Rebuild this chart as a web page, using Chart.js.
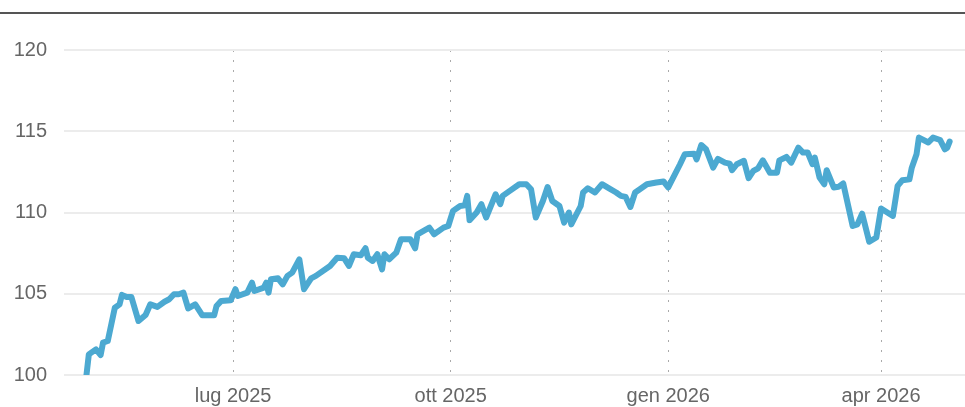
<!DOCTYPE html>
<html lang="it">
<head>
<meta charset="utf-8">
<script src="https://cdn.jsdelivr.net/npm/chart.js@4.4.0/dist/chart.umd.min.js"></script>
<style>
  body { margin: 0; background: #fff; }
  #wrap { position: relative; width: 965px; height: 407px; overflow: hidden; }
  #grafico { position: absolute; left: 0; top: 0; }
  #riga { position: absolute; left: 0; top: 12px; width: 965px; height: 2px; background: #555; }
</style>
</head>
<body>
<div id="wrap">
  <canvas id="grafico" width="965" height="407"></canvas>
  <div id="riga"></div>
</div>
<script>
// Serie: giorni trascorsi dal 30 aprile 2025 e valore dell'indice
const inizio = "2025-04-30";
const giorni = [
  0, 1, 4, 6, 7, 9, 12, 14, 15, 17, 19, 22, 25, 27, 30, 33, 35, 37, 39, 41,
  43, 46, 49, 54, 55, 57, 61, 63, 64, 68, 70, 71, 75, 76, 77, 78, 81, 83, 85, 87,
  90, 92, 95, 97, 103, 106, 109, 111, 113, 116, 118, 119, 121, 123, 125, 126, 128, 131, 133, 137,
  139, 140, 142, 145, 147, 151, 153, 155, 158, 160, 161, 162, 165, 167, 169, 173, 175, 176, 179, 183,
  186, 188, 190, 193, 195, 197, 200, 202, 204, 205, 209, 210, 212, 215, 218, 221, 224, 226, 228, 230,
  232, 234, 237, 241, 244, 246, 251, 253, 257, 258, 260, 262, 265, 267, 270, 272, 273, 275, 278, 280,
  282, 284, 286, 289, 292, 293, 296, 298, 301, 303, 305, 307, 308, 310, 312, 313, 316, 318, 320, 324,
  326, 328, 331, 334, 336, 341, 343, 345, 348, 349, 351, 352, 356, 358, 361, 363, 364, 365
];
const valori = [
  100.0, 101.27, 101.58, 101.23, 101.99, 102.09, 104.14, 104.35, 104.93, 104.8,
  104.8, 103.32, 103.69, 104.35, 104.19, 104.51, 104.66, 104.97, 104.97, 105.07,
  104.1, 104.35, 103.67, 103.67, 104.25, 104.56, 104.6, 105.28, 104.86, 105.07,
  105.68, 105.17, 105.38, 105.68, 105.07, 105.89, 105.95, 105.58, 106.1, 106.3,
  107.12, 105.28, 105.95, 106.1, 106.71, 107.22, 107.18, 106.71, 107.43, 107.37,
  107.8, 107.22, 107.02, 107.43, 106.5, 107.43, 107.12, 107.53, 108.35, 108.35,
  107.8, 108.66, 108.82, 109.07, 108.66, 109.07, 109.17, 110.1, 110.4, 110.44,
  111.02, 109.53, 110.0, 110.51, 109.69, 111.12, 110.51, 111.02, 111.33, 111.74,
  111.74, 111.43, 109.69, 110.71, 111.57, 110.71, 110.4, 109.38, 110.0, 109.27,
  110.4, 111.23, 111.49, 111.23, 111.74, 111.49, 111.23, 111.02, 110.96, 110.34,
  111.23, 111.43, 111.74, 111.85, 111.91, 111.54, 112.97, 113.58, 113.62, 113.27,
  114.15, 113.89, 112.76, 113.3, 113.07, 113.01, 112.6, 112.97, 113.18, 112.11,
  112.56, 112.72, 113.21, 112.45, 112.45, 113.21, 113.42, 113.07, 113.99, 113.69,
  113.69, 112.97, 113.38, 112.15, 111.74, 112.6, 111.54, 111.58, 111.79, 109.17,
  109.27, 109.93, 108.2, 108.46, 110.25, 109.79, 111.64, 111.98, 112.04, 112.76,
  113.58, 114.61, 114.31, 114.61, 114.46, 113.89, 113.99, 114.36
];

// Etichette dell'asse orizzontale (inizio trimestre)
const tickDate = ["2025-07-01", "2025-10-01", "2026-01-01", "2026-04-01"];
const tickEtichette = ["lug 2025", "ott 2025", "gen 2026", "apr 2026"];
const yTick = [100, 105, 110, 115, 120];

const giornoDa = (d) => Math.round((Date.parse(d) - Date.parse(inizio)) / 86400000);

const fonte = { family: "'Liberation Sans', Arial, sans-serif", size: 20 };

const ctx = document.getElementById("grafico");
new Chart(ctx, {
  type: "line",
  data: {
    datasets: [
      {
        data: giorni.map((g, i) => ({ x: g, y: valori[i] })),
        borderColor: "#4ca9d1",
        borderWidth: 6,
        borderJoinStyle: "round",
        borderCapStyle: "round",
        pointRadius: 0,
        tension: 0,
        fill: false,
      },
    ],
  },
  options: {
    responsive: false,
    animation: false,
    layout: { padding: { top: 50, left: 0, right: 0, bottom: 0 } },
    plugins: { legend: { display: false }, tooltip: { enabled: false } },
    scales: {
      x: {
        type: "linear",
        min: -9.5,
        max: 371.5,
        afterBuildTicks: (s) => {
          s.ticks = tickDate.map((d) => ({ value: giornoDa(d) }));
        },
        afterFit: (s) => {
          s.height = 32;
        },
        ticks: {
          callback: (v, i) => tickEtichette[i],
          color: "#666",
          font: fonte,
          padding: 9,
          autoSkip: false,
          maxRotation: 0,
        },
        grid: { color: "#aaa", lineWidth: 1, drawTicks: false },
        border: { display: false, dash: [2, 8] },
      },
      y: {
        min: 100,
        max: 120,
        afterBuildTicks: (s) => {
          s.ticks = yTick.map((v) => ({ value: v }));
        },
        afterFit: (s) => {
          s.width = 64;
        },
        ticks: { color: "#666", font: fonte, padding: 17, callback: (v) => v },
        grid: { color: "#ececec", lineWidth: 2, drawTicks: false },
        border: { display: false },
      },
    },
  },
});
</script>
</body>
</html>
